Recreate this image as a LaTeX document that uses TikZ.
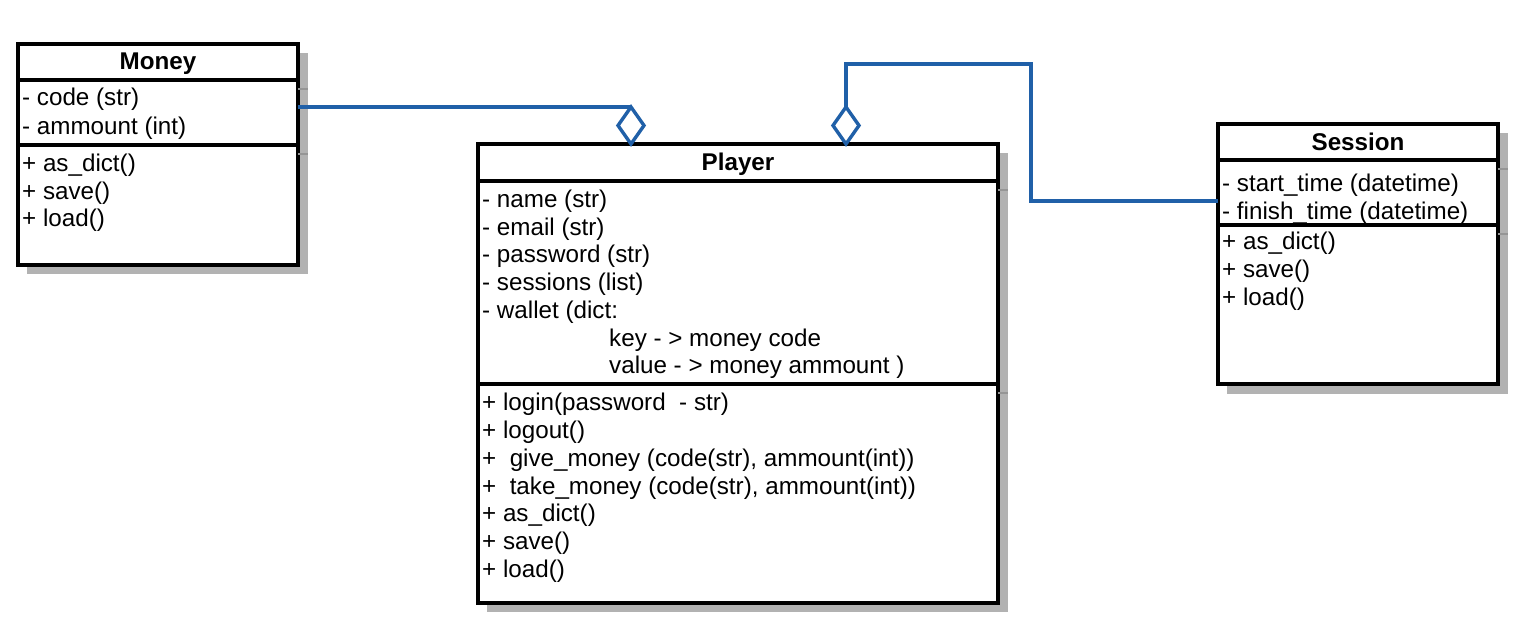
\documentclass[tikz,border=0pt]{standalone}
\usepackage{fontspec}
\setmainfont{Liberation Sans}
\usetikzlibrary{shapes.geometric}
\definecolor{linkblue}{RGB}{32,96,168}
\definecolor{shadowgray}{RGB}{178,178,178}
\definecolor{tickgray}{RGB}{150,150,150}
\begin{document}
\begin{tikzpicture}[x=1pt,y=-1pt,
 box/.style={draw=black, line width=3.6pt, fill=white, anchor=north west, inner sep=0pt, outer sep=0pt},
 txt/.style={anchor=base west, inner sep=0pt, font=\fontsize{24.2}{28}\selectfont},
 ttl/.style={anchor=base, inner sep=0pt, font=\fontsize{24.2}{28}\selectfont\bfseries},
 div/.style={line width=3.6pt, black},
 shadetick/.style={line width=1.5pt, tickgray},
 link/.style={draw=linkblue, line width=3.4pt},
 agg/.style={diamond, draw=linkblue, line width=3.4pt, fill=white, minimum width=26pt, minimum height=37pt, inner sep=0pt, outer sep=0pt, anchor=south}
]
\useasboundingbox (0,0) rectangle (1532,642);

% ---------- shadows ----------
\fill[shadowgray] (27,53) rectangle (308,274);
\fill[shadowgray] (487,153) rectangle (1008,612);
\fill[shadowgray] (1227,133) rectangle (1508,394);

% ---------- Money ----------
\node[box, minimum width=280pt, minimum height=221pt] (money) at (18,44) {};
\draw[div] (money.west |- 0,80) -- (money.east |- 0,80);
\draw[div] (money.west |- 0,145) -- (money.east |- 0,145);
\draw[shadetick] (money.east |- 0,89) -- ++(10,0);
\draw[shadetick] (money.east |- 0,154) -- ++(10,0);
\node[ttl] (mt) at (158,70) {Money};
\node[txt] (m1) at (22,106) {- code (str)};
\node[txt] (m2) at (22,134) {- ammount (int)};
\node[txt] (m3) at (22,171) {+ as\_dict()};
\node[txt] (m4) at (22,199) {+ save()};
\node[txt] (m5) at (22,226) {+ load()};

% ---------- Player ----------
\node[box, minimum width=520pt, minimum height=459pt] (player) at (478,144) {};
\draw[div] (player.west |- 0,181) -- (player.east |- 0,181);
\draw[div] (player.west |- 0,384) -- (player.east |- 0,384);
\draw[shadetick] (player.east |- 0,190) -- ++(10,0);
\draw[shadetick] (player.east |- 0,393) -- ++(10,0);
\node[ttl] (pt) at (738,170) {Player};
\node[txt] (p1) at (482,207) {- name (str)};
\node[txt] (p2) at (482,235) {- email (str)};
\node[txt] (p3) at (482,262) {- password (str)};
\node[txt] (p4) at (482,290) {- sessions (list)};
\node[txt] (p5) at (482,318) {- wallet (dict:};
\node[txt] (p6) at (609,346) {key - > money code};
\node[txt] (p7) at (609,373) {value - > money ammount )};
\node[txt] (q1) at (482,410) {+ login(password~ - str)};
\node[txt] (q2) at (482,438) {+ logout()};
\node[txt] (q3) at (482,466) {+~ give\_money (code(str), ammount(int))};
\node[txt] (q4) at (482,494) {+~ take\_money (code(str), ammount(int))};
\node[txt] (q5) at (482,521) {+ as\_dict()};
\node[txt] (q6) at (482,549) {+ save()};
\node[txt] (q7) at (482,577) {+ load()};

% ---------- Session ----------
\node[box, minimum width=280pt, minimum height=260pt] (session) at (1218,124) {};
\draw[div] (session.west |- 0,160) -- (session.east |- 0,160);
\draw[div] (session.west |- 0,225) -- (session.east |- 0,225);
\draw[shadetick] (session.east |- 0,169) -- ++(10,0);
\draw[shadetick] (session.east |- 0,234) -- ++(10,0);
\node[ttl] (st) at (1358,150) {Session};
\node[txt] (s1) at (1222,191) {- start\_time (datetime)};
\node[txt] (s2) at (1222,219) {- finish\_time (datetime)};
\node[txt] (s3) at (1222,249) {+ as\_dict()};
\node[txt] (s4) at (1222,277) {+ save()};
\node[txt] (s5) at (1222,305) {+ load()};

% ---------- aggregations ----------
\node[agg] (d1) at (player.north west -| 631,0) {};
\node[agg] (d2) at (player.north west -| 846,0) {};
\coordinate (bend) at (1031,64);
\draw[link] (money.east |- d1.north) -- (d1.north);
\draw[link] (d2.north) |- (bend) |- (session.west |- 0,201);
\end{tikzpicture}
\end{document}
